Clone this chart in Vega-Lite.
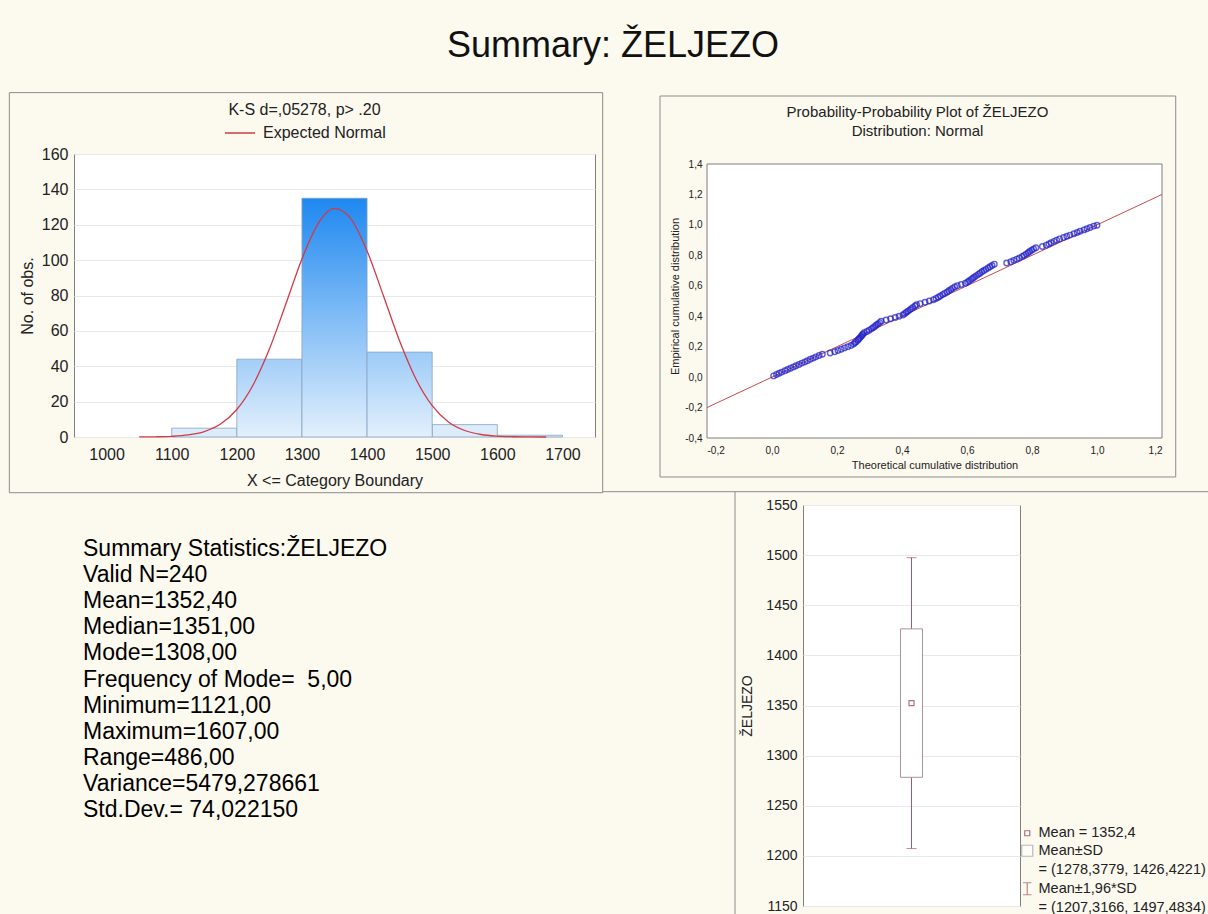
{
  "$schema": "https://vega.github.io/schema/vega-lite/v6.json",
  "background": "#fcf9ef",
  "padding": {"left": 8, "top": 27, "right": 0, "bottom": 0},
  "title": {"text": "Summary: ŽELJEZO", "fontSize": 36, "fontWeight": "normal", "font": "Liberation Sans", "color": "#111111", "offset": 27, "dx": 4, "anchor": "middle"},
  "config": {
    "font": "Liberation Sans",
    "view": {"fill": "#ffffff", "stroke": "#7f7f7f", "strokeWidth": 1},
    "axis": {"labelFont": "Liberation Sans", "titleFont": "Liberation Sans", "labelColor": "#222222", "titleColor": "#222222", "titleFontWeight": "normal", "domain": false, "ticks": false, "grid": false, "gridColor": "#e9e9e9", "labelOverlap": false},
    "legend": {"labelFont": "Liberation Sans", "labelColor": "#222222"}
  },
  "datasets": {
    "bins": [
      {"lo": 1100, "hi": 1200, "n": 5},
      {"lo": 1200, "hi": 1300, "n": 44},
      {"lo": 1300, "hi": 1400, "n": 135},
      {"lo": 1400, "hi": 1500, "n": 48},
      {"lo": 1500, "hi": 1600, "n": 7},
      {"lo": 1600, "hi": 1700, "n": 1}
    ],
    "curve": [
      {"x": 1050, "y": 0.03}, {"x": 1075, "y": 0.12}, {"x": 1100, "y": 0.39}, {"x": 1125, "y": 1.16},
      {"x": 1150, "y": 3.08}, {"x": 1175, "y": 7.32}, {"x": 1200, "y": 15.54}, {"x": 1225, "y": 29.42},
      {"x": 1250, "y": 49.69}, {"x": 1275, "y": 74.88}, {"x": 1300, "y": 100.69}, {"x": 1325, "y": 120.79},
      {"x": 1350, "y": 129.28}, {"x": 1375, "y": 123.46}, {"x": 1400, "y": 105.19}, {"x": 1425, "y": 79.97},
      {"x": 1450, "y": 54.24}, {"x": 1475, "y": 32.82}, {"x": 1500, "y": 17.72}, {"x": 1525, "y": 8.53},
      {"x": 1550, "y": 3.67}, {"x": 1575, "y": 1.41}, {"x": 1600, "y": 0.48}, {"x": 1625, "y": 0.15},
      {"x": 1650, "y": 0.04}, {"x": 1675, "y": 0.01}
    ],
    "diag": [{"t": -0.2, "e": -0.2}, {"t": 1.2, "e": 1.2}],
    "pp": [
      {"t": 0.005, "e": 0.008}, {"t": 0.014, "e": 0.017}, {"t": 0.022, "e": 0.025}, {"t": 0.03, "e": 0.033},
      {"t": 0.04, "e": 0.042}, {"t": 0.048, "e": 0.05}, {"t": 0.057, "e": 0.058}, {"t": 0.066, "e": 0.067},
      {"t": 0.074, "e": 0.075}, {"t": 0.083, "e": 0.083}, {"t": 0.092, "e": 0.092}, {"t": 0.101, "e": 0.1},
      {"t": 0.109, "e": 0.108}, {"t": 0.118, "e": 0.117}, {"t": 0.127, "e": 0.125}, {"t": 0.135, "e": 0.133},
      {"t": 0.145, "e": 0.142}, {"t": 0.155, "e": 0.15}, {"t": 0.179, "e": 0.158}, {"t": 0.193, "e": 0.167},
      {"t": 0.203, "e": 0.175}, {"t": 0.213, "e": 0.183}, {"t": 0.223, "e": 0.192}, {"t": 0.233, "e": 0.2},
      {"t": 0.243, "e": 0.208}, {"t": 0.251, "e": 0.217}, {"t": 0.255, "e": 0.225}, {"t": 0.259, "e": 0.233},
      {"t": 0.264, "e": 0.242}, {"t": 0.267, "e": 0.25}, {"t": 0.27, "e": 0.258}, {"t": 0.274, "e": 0.267},
      {"t": 0.277, "e": 0.275}, {"t": 0.28, "e": 0.283}, {"t": 0.284, "e": 0.292}, {"t": 0.292, "e": 0.3},
      {"t": 0.299, "e": 0.308}, {"t": 0.306, "e": 0.317}, {"t": 0.311, "e": 0.325}, {"t": 0.316, "e": 0.333},
      {"t": 0.321, "e": 0.342}, {"t": 0.326, "e": 0.35}, {"t": 0.331, "e": 0.358}, {"t": 0.336, "e": 0.367},
      {"t": 0.351, "e": 0.375}, {"t": 0.365, "e": 0.383}, {"t": 0.379, "e": 0.392}, {"t": 0.391, "e": 0.4},
      {"t": 0.403, "e": 0.408}, {"t": 0.408, "e": 0.417}, {"t": 0.413, "e": 0.425}, {"t": 0.418, "e": 0.433},
      {"t": 0.424, "e": 0.442}, {"t": 0.429, "e": 0.45}, {"t": 0.434, "e": 0.458}, {"t": 0.44, "e": 0.467},
      {"t": 0.445, "e": 0.475}, {"t": 0.456, "e": 0.483}, {"t": 0.471, "e": 0.492}, {"t": 0.484, "e": 0.5},
      {"t": 0.497, "e": 0.508}, {"t": 0.505, "e": 0.517}, {"t": 0.512, "e": 0.525}, {"t": 0.518, "e": 0.533},
      {"t": 0.525, "e": 0.542}, {"t": 0.531, "e": 0.55}, {"t": 0.538, "e": 0.558}, {"t": 0.544, "e": 0.567},
      {"t": 0.55, "e": 0.575}, {"t": 0.555, "e": 0.583}, {"t": 0.562, "e": 0.592}, {"t": 0.57, "e": 0.6},
      {"t": 0.582, "e": 0.608}, {"t": 0.595, "e": 0.617}, {"t": 0.602, "e": 0.625}, {"t": 0.607, "e": 0.633},
      {"t": 0.613, "e": 0.642}, {"t": 0.618, "e": 0.65}, {"t": 0.623, "e": 0.658}, {"t": 0.629, "e": 0.667},
      {"t": 0.635, "e": 0.675}, {"t": 0.64, "e": 0.683}, {"t": 0.646, "e": 0.692}, {"t": 0.652, "e": 0.7},
      {"t": 0.658, "e": 0.708}, {"t": 0.665, "e": 0.717}, {"t": 0.671, "e": 0.725}, {"t": 0.677, "e": 0.733},
      {"t": 0.684, "e": 0.742}, {"t": 0.722, "e": 0.75}, {"t": 0.735, "e": 0.758}, {"t": 0.744, "e": 0.767},
      {"t": 0.753, "e": 0.775}, {"t": 0.761, "e": 0.783}, {"t": 0.77, "e": 0.792}, {"t": 0.776, "e": 0.8},
      {"t": 0.782, "e": 0.808}, {"t": 0.788, "e": 0.817}, {"t": 0.793, "e": 0.825}, {"t": 0.799, "e": 0.833},
      {"t": 0.805, "e": 0.842}, {"t": 0.812, "e": 0.85}, {"t": 0.832, "e": 0.858}, {"t": 0.844, "e": 0.867},
      {"t": 0.852, "e": 0.875}, {"t": 0.859, "e": 0.883}, {"t": 0.868, "e": 0.892}, {"t": 0.876, "e": 0.9},
      {"t": 0.885, "e": 0.908}, {"t": 0.897, "e": 0.917}, {"t": 0.907, "e": 0.925}, {"t": 0.917, "e": 0.933},
      {"t": 0.929, "e": 0.942}, {"t": 0.939, "e": 0.95}, {"t": 0.948, "e": 0.958}, {"t": 0.96, "e": 0.967},
      {"t": 0.969, "e": 0.975}, {"t": 0.979, "e": 0.983}, {"t": 0.99, "e": 0.992}, {"t": 1.0, "e": 0.998}
    ],
    "stats": [
      {"i": 0, "line": "Summary Statistics:ŽELJEZO"},
      {"i": 1, "line": "Valid N=240"},
      {"i": 2, "line": "Mean=1352,40"},
      {"i": 3, "line": "Median=1351,00"},
      {"i": 4, "line": "Mode=1308,00"},
      {"i": 5, "line": "Frequency of Mode=\u00a0\u00a05,00"},
      {"i": 6, "line": "Minimum=1121,00"},
      {"i": 7, "line": "Maximum=1607,00"},
      {"i": 8, "line": "Range=486,00"},
      {"i": 9, "line": "Variance=5479,278661"},
      {"i": 10, "line": "Std.Dev.= 74,022150"}
    ],
    "box": [
      {"cat": "ŽELJEZO", "lo": 1207.3166, "hi": 1497.4834, "blo": 1278.3779, "bhi": 1426.4221, "mean": 1352.4, "stat": "Mean = 1352,4"}
    ]
  },
  "bounds": "full",
  "spacing": -3,
  "vconcat": [
    {
      "bounds": "flush",
      "spacing": 112,
      "hconcat": [
        {
          "width": 521,
          "height": 283,
          "title": {"text": "K-S d=,05278, p> .20", "fontSize": 16, "fontWeight": "normal", "color": "#222222", "dx": -30, "offset": -26},
          "layer": [
            {
              "data": {"values": [{}]},
              "mark": {"type": "rect", "fillOpacity": 0, "stroke": "#8c8c8c", "strokeWidth": 1},
              "encoding": {
                "x": {"datum": 850.7, "type": "quantitative"},
                "x2": {"datum": 1761.8},
                "y": {"datum": -31.5, "type": "quantitative"},
                "y2": {"datum": 194.7}
              }
            },
            {
              "data": {"name": "bins"},
              "transform": [{"filter": "datum.n < 10"}],
              "mark": {"type": "bar", "fill": "#dcecfb", "stroke": "#86a3c2", "strokeWidth": 0.8},
              "encoding": {
                "x": {"field": "lo", "type": "quantitative", "scale": {"domain": [950, 1750], "nice": false, "zero": false},
                      "axis": {"values": [1000, 1100, 1200, 1300, 1400, 1500, 1600, 1700], "tickCount": 30, "format": "d", "labelOverlap": false, "labelFontSize": 16, "labelPadding": 9, "title": "X <= Category Boundary", "titleFontSize": 16, "titlePadding": 10}},
                "x2": {"field": "hi"},
                "y": {"field": "n", "type": "quantitative", "scale": {"domain": [0, 160], "nice": false},
                      "axis": {"values": [0, 20, 40, 60, 80, 100, 120, 140, 160], "tickCount": 30, "format": "d", "labelOverlap": false, "grid": true, "labelFontSize": 16, "labelPadding": 6, "title": "No. of obs.", "titleFontSize": 16, "titlePadding": 6}},
                "y2": {"datum": 0}
              }
            },
            {
              "data": {"name": "bins"},
              "transform": [{"filter": "datum.n == 44"}],
              "mark": {"type": "bar", "stroke": "#86a3c2", "strokeWidth": 0.8,
                       "fill": {"gradient": "linear", "x1": 0, "y1": 1, "x2": 0, "y2": 0, "stops": [{"offset": 0, "color": "#e3f0fc"}, {"offset": 1, "color": "#a3cef8"}]}},
              "encoding": {"x": {"field": "lo", "type": "quantitative"}, "x2": {"field": "hi"}, "y": {"field": "n", "type": "quantitative"}, "y2": {"datum": 0}}
            },
            {
              "data": {"name": "bins"},
              "transform": [{"filter": "datum.n == 135"}],
              "mark": {"type": "bar", "stroke": "#86a3c2", "strokeWidth": 0.8,
                       "fill": {"gradient": "linear", "x1": 0, "y1": 1, "x2": 0, "y2": 0, "stops": [{"offset": 0, "color": "#e3f0fc"}, {"offset": 1, "color": "#1e88f0"}]}},
              "encoding": {"x": {"field": "lo", "type": "quantitative"}, "x2": {"field": "hi"}, "y": {"field": "n", "type": "quantitative"}, "y2": {"datum": 0}}
            },
            {
              "data": {"name": "bins"},
              "transform": [{"filter": "datum.n == 48"}],
              "mark": {"type": "bar", "stroke": "#86a3c2", "strokeWidth": 0.8,
                       "fill": {"gradient": "linear", "x1": 0, "y1": 1, "x2": 0, "y2": 0, "stops": [{"offset": 0, "color": "#e3f0fc"}, {"offset": 1, "color": "#9dcbf8"}]}},
              "encoding": {"x": {"field": "lo", "type": "quantitative"}, "x2": {"field": "hi"}, "y": {"field": "n", "type": "quantitative"}, "y2": {"datum": 0}}
            },
            {
              "data": {"name": "curve"},
              "mark": {"type": "line", "strokeWidth": 1.3, "interpolate": "monotone"},
              "encoding": {
                "x": {"field": "x", "type": "quantitative"},
                "y": {"field": "y", "type": "quantitative"},
                "color": {"datum": "Expected Normal", "type": "nominal", "scale": {"range": ["#d23a46"]},
                          "legend": {"orient": "none", "legendX": 150, "legendY": -37, "title": null, "symbolType": "stroke", "symbolSize": 900, "symbolStrokeWidth": 1.5, "labelFontSize": 16, "labelOffset": 7}}
              }
            }
          ]
        },
        {
          "width": 455,
          "height": 284,
          "view": {"fill": null, "stroke": null},
          "title": {"text": ["Probability-Probability Plot of ŽELJEZO", "Distribution: Normal"], "fontSize": 15, "lineHeight": 19, "fontWeight": "normal", "color": "#222222", "dx": -17, "offset": -43},
          "layer": [
            {
              "data": {"values": [{}]},
              "mark": {"type": "rect", "fillOpacity": 0, "stroke": "#8c8c8c", "strokeWidth": 1},
              "encoding": {
                "x": {"datum": -0.3446, "type": "quantitative"},
                "x2": {"datum": 1.2422},
                "y": {"datum": -0.6562, "type": "quantitative"},
                "y2": {"datum": 1.8467}
              }
            },
            {
              "data": {"values": [{}]},
              "mark": {"type": "rect", "fill": "#ffffff", "stroke": "#7f7f7f", "strokeWidth": 1},
              "encoding": {
                "x": {"datum": -0.2, "type": "quantitative", "scale": {"domain": [-0.2, 1.2], "nice": false, "zero": false},
                      "axis": {"values": [-0.2, 0, 0.2, 0.4, 0.6, 0.8, 1.0, 1.2], "tickCount": 30, "labelOverlap": false, "labelExpr": "replace(replace(format(datum.value, '.1f'), '.', ','), '\u2212', '-')", "labelFontSize": 10, "labelPadding": 7, "title": "Theoretical cumulative distribution", "titleFontSize": 11, "titlePadding": 4}},
                "x2": {"datum": 1.2},
                "y": {"datum": -0.4, "type": "quantitative", "scale": {"domain": [-0.4, 1.4657], "nice": false, "zero": false},
                      "axis": {"values": [-0.4, -0.2, 0, 0.2, 0.4, 0.6, 0.8, 1.0, 1.2, 1.4], "tickCount": 30, "labelOverlap": false, "labelExpr": "replace(replace(format(datum.value, '.1f'), '.', ','), '\u2212', '-')", "labelFontSize": 10, "labelPadding": 5, "title": "Empirical cumulative distribution", "titleFontSize": 11, "titlePadding": 4}},
                "y2": {"datum": 1.4}
              }
            },
            {
              "data": {"name": "diag"},
              "mark": {"type": "line", "color": "#cc4b4b", "strokeWidth": 1},
              "encoding": {"x": {"field": "t", "type": "quantitative"}, "y": {"field": "e", "type": "quantitative"}}
            },
            {
              "data": {"name": "pp"},
              "mark": {"type": "point", "shape": "circle", "filled": false, "color": "#1e1ec8", "size": 30, "strokeWidth": 1.4},
              "encoding": {"x": {"field": "t", "type": "quantitative"}, "y": {"field": "e", "type": "quantitative"}}
            }
          ]
        }
      ]
    },
    {
      "bounds": "flush",
      "spacing": 29,
      "hconcat": [
        {
          "width": 700,
          "height": 401,
          "view": {"fill": null, "stroke": null},
          "layer": [
            {
              "data": {"name": "stats"},
              "mark": {"type": "text", "align": "left", "baseline": "middle", "fontSize": 23, "color": "#000000"},
              "encoding": {
                "x": {"datum": 0, "type": "quantitative", "scale": {"domain": [-9, 691], "nice": false, "zero": false}, "axis": null},
                "y": {"field": "i", "type": "quantitative", "scale": {"domain": [-1.686, 13.678], "reverse": true, "nice": false, "zero": false}, "axis": null},
                "text": {"field": "line"}
              }
            },
            {
              "data": {"values": [{}]},
              "mark": {"type": "rule", "color": "#8c8c8c", "strokeWidth": 1},
              "encoding": {"x": {"datum": 519.7, "type": "quantitative", "axis": null}, "x2": {"datum": 1126}, "y": {"datum": -2.196, "type": "quantitative", "axis": null}}
            },
            {
              "data": {"values": [{}]},
              "mark": {"type": "rule", "color": "#8c8c8c", "strokeWidth": 1},
              "encoding": {"x": {"datum": 652, "type": "quantitative", "axis": null}, "y": {"datum": -2.196, "type": "quantitative", "axis": null}, "y2": {"datum": 14.2}}
            }
          ]
        },
        {
          "width": 217,
          "height": 401,
          "data": {"name": "box"},
          "encoding": {"x": {"field": "cat", "type": "nominal", "scale": {"paddingInner": 0, "paddingOuter": 0}, "axis": null}},
          "layer": [
            {
              "mark": {"type": "rule", "color": "#a25a6a", "strokeWidth": 1},
              "encoding": {
                "y": {"field": "lo", "type": "quantitative", "scale": {"domain": [1150, 1550], "nice": false, "zero": false},
                      "axis": {"values": [1150, 1200, 1250, 1300, 1350, 1400, 1450, 1500, 1550], "tickCount": 30, "format": "d", "labelOverlap": false, "grid": true, "labelFontSize": 14, "labelPadding": 6, "title": "ŽELJEZO", "titleFontSize": 14, "titlePadding": 11}},
                "y2": {"field": "hi"}
              }
            },
            {
              "mark": {"type": "tick", "color": "#a25a6a", "size": 10, "thickness": 1},
              "encoding": {"y": {"field": "lo", "type": "quantitative"}}
            },
            {
              "mark": {"type": "tick", "color": "#a25a6a", "size": 10, "thickness": 1},
              "encoding": {"y": {"field": "hi", "type": "quantitative"}}
            },
            {
              "mark": {"type": "bar", "fill": "#ffffff", "stroke": "#a8949c", "strokeWidth": 1, "size": 22},
              "encoding": {"y": {"field": "blo", "type": "quantitative"}, "y2": {"field": "bhi"}}
            },
            {
              "mark": {"type": "point", "filled": true, "fill": "#ffffff", "size": 144, "strokeWidth": 1.2},
              "encoding": {
                "y": {"field": "mean", "type": "quantitative"},
                "shape": {"field": "stat", "type": "nominal",
                          "scale": {"domain": ["Mean = 1352,4", "Mean±SD", "= (1278,3779, 1426,4221)", "Mean±1,96*SD", "= (1207,3166, 1497,4834)"],
                                    "range": ["M-0.42,-0.42H0.42V0.42H-0.42Z", "M-0.92,-0.92H0.92V0.92H-0.92Z", "M0,0", "M-0.7,-1H0.7M0,-1V1M-0.7,1H0.7", "M0,0"]},
                          "legend": {"orient": "none", "legendX": 946, "legendY": 672, "title": null, "labelFontSize": 14.5, "labelLimit": 400, "rowPadding": 2.5, "symbolSize": 144, "symbolStrokeWidth": 1.2, "symbolFillColor": "#ffffff"}},
                "stroke": {"field": "stat", "type": "nominal",
                           "scale": {"domain": ["Mean = 1352,4", "Mean±SD", "= (1278,3779, 1426,4221)", "Mean±1,96*SD", "= (1207,3166, 1497,4834)"],
                                     "range": ["#8c3a4c", "#a0a0a0", "#ffffff00", "#a25a6a", "#ffffff00"]},
                           "legend": {"orient": "none", "legendX": 946, "legendY": 672, "title": null, "labelFontSize": 14.5, "labelLimit": 400, "rowPadding": 2.5, "symbolSize": 144, "symbolStrokeWidth": 1.2, "symbolFillColor": "#ffffff"}}
              }
            }
          ]
        }
      ]
    }
  ]
}
